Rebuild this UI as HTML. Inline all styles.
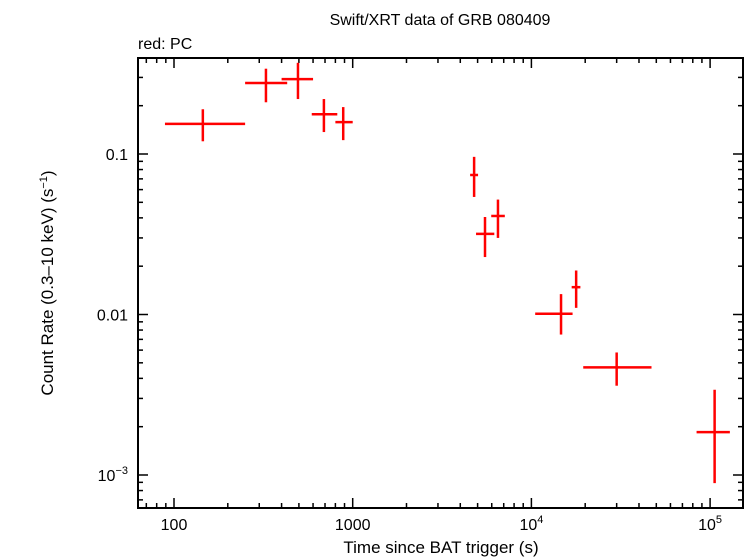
<!DOCTYPE html>
<html><head><meta charset="utf-8"><style>
body{margin:0;background:#fff}
svg{display:block;font-family:"Liberation Sans",sans-serif}
</style></head><body>
<svg id="chart" width="746" height="558">
<text x="440" y="25" font-size="16" text-anchor="middle">Swift/XRT data of GRB 080409</text>
<text x="138" y="49" font-size="16">red: PC</text>
<text x="441" y="553" font-size="17" text-anchor="middle">Time since BAT trigger (s)</text>
<text transform="translate(53,283) rotate(-90)" font-size="17" text-anchor="middle">Count Rate (0.3–10 keV) (s<tspan font-size="11" dy="-6">−1</tspan><tspan dy="6">)</tspan></text>
<g id="ticks"></g><g id="marks"></g>
<rect x="138" y="58" width="605" height="450" fill="none" stroke="#000" stroke-width="2"/>
</svg>
<script>
const times=[145,327,494,690,885,4780,5500,6500,14650,17800,30000,106000];
const tLo=[89,250,400,590,800,4540,4900,5960,10500,16800,19500,84000];
const tHi=[250,430,600,820,1000,5030,6200,7100,17000,18800,47000,129000];
const rates=[0.154,0.277,0.293,0.177,0.158,0.074,0.0318,0.0411,0.0101,0.0148,0.00468,0.00185];
const rLo=[0.12,0.21,0.22,0.137,0.122,0.054,0.0228,0.030,0.0075,0.0110,0.0036,0.00089];
const rHi=[0.19,0.34,0.37,0.22,0.196,0.096,0.0405,0.052,0.0134,0.0188,0.0058,0.0034];
const xTickVals=[100,1000,10000,100000];
const xTickLabels=["100","1000","10<tspan font-size='11' dy='-7'>4</tspan>","10<tspan font-size='11' dy='-7'>5</tspan>"];
const yTickVals=[0.1,0.01,0.001];
const yTickLabels=["0.1","0.01","10<tspan font-size='11' dy='-7'>−3</tspan>"];
const L=138,R=743,T=58,B=508;
const X=v=>174+(Math.log10(v)-2)*178.7;
const Y=v=>154-(Math.log10(v)+1)*160.5;
const ns="http://www.w3.org/2000/svg";
function line(g,x1,y1,x2,y2,c,w,name){const e=document.createElementNS(ns,"line");
e.setAttribute("x1",x1);e.setAttribute("y1",y1);e.setAttribute("x2",x2);e.setAttribute("y2",y2);
e.setAttribute("stroke",c);e.setAttribute("stroke-width",w);


g.appendChild(e);}
const tg=document.getElementById("ticks"),mg=document.getElementById("marks");
for(let d=1;d<=5;d++)for(let m=1;m<10;m++){const v=m*Math.pow(10,d);const x=X(v);if(x<L||x>R)continue;
const len=m==1?10:5;line(tg,x,B,x,B-len,"#000",1.5,"x-tick");line(tg,x,T,x,T+len,"#000",1.5,"x-tick");}
for(let d=-4;d<=0;d++)for(let m=1;m<10;m++){const v=m*Math.pow(10,d);const y=Y(v);if(y<T||y>B)continue;
const len=m==1?10:5;line(tg,L,y,L+len,y,"#000",1.5,"y-tick");line(tg,R,y,R-len,y,"#000",1.5,"y-tick");}
xTickVals.forEach((v,i)=>{const t=document.createElementNS(ns,"text");t.setAttribute("x",X(v));t.setAttribute("y",530);
t.setAttribute("font-size","16");t.setAttribute("text-anchor","middle");t.innerHTML=xTickLabels[i];


tg.appendChild(t);});
yTickVals.forEach((v,i)=>{const t=document.createElementNS(ns,"text");t.setAttribute("x",128);t.setAttribute("y",Y(v)+6);
t.setAttribute("font-size","16");t.setAttribute("text-anchor","end");t.innerHTML=yTickLabels[i];


tg.appendChild(t);});
times.forEach((v,i)=>{line(mg,X(tLo[i]),Y(rates[i]),X(tHi[i]),Y(rates[i]),"#f00",2.5,"data-point-xerr");
line(mg,X(v),Y(rLo[i]),X(v),Y(rHi[i]),"#f00",2.5,"data-point-yerr");});
</script>
</body></html>
